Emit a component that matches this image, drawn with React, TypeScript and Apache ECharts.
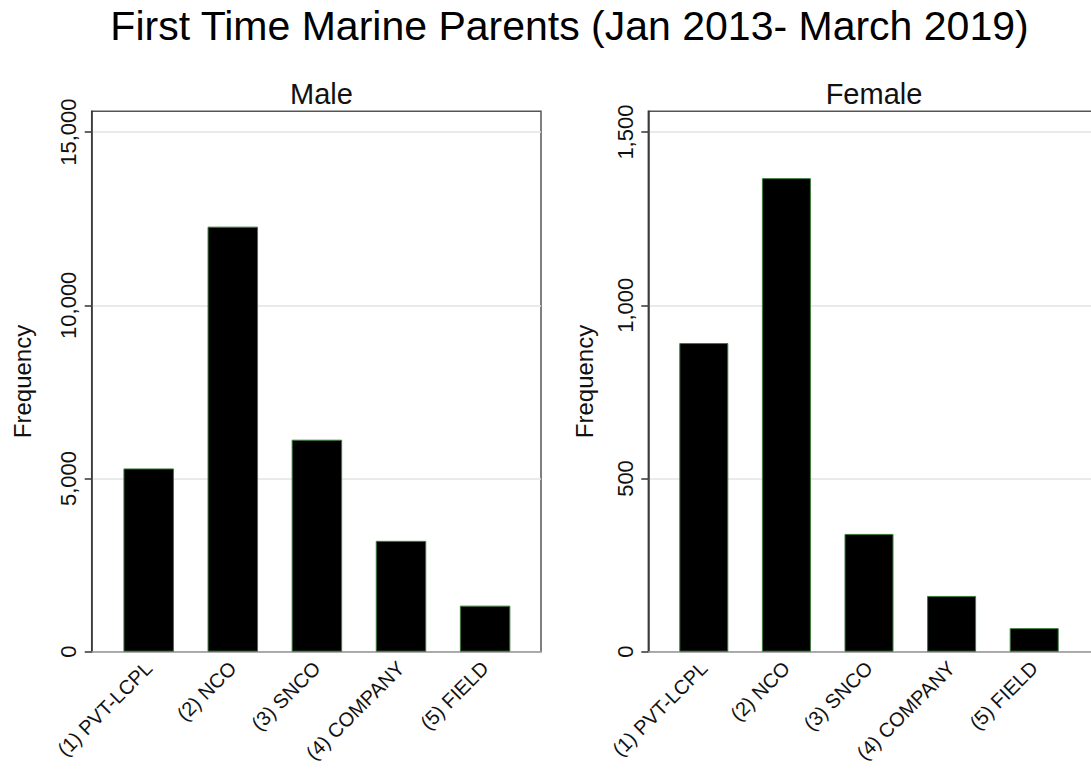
import React, { useEffect, useRef } from "react";
import * as echarts from "echarts";

const categories = ["(1) PVT-LCPL", "(2) NCO", "(3) SNCO", "(4) COMPANY", "(5) FIELD"];
const maleValues = [5290, 12270, 6120, 3200, 1330];
const femaleValues = [891, 1367, 340, 161, 68];
const maleTicks = [0, 5000, 10000, 15000];
const femaleTicks = [0, 500, 1000, 1500];
const maleMax = 15600;
const femaleMax = 1560;
const mainTitle = "First Time Marine Parents (Jan 2013- March 2019)";
const panelTitles = ["Male", "Female"];
const yName = "Frequency";

const FONT = "'Liberation Sans', Arial, sans-serif";
const fmt = (v: number) => Number(v).toLocaleString("en-US");

export default function App() {
  const ref = useRef<HTMLDivElement>(null);
  useEffect(() => {
    if (!ref.current) return;
    const chart = echarts.init(ref.current, null, { renderer: "svg" });
    const top = 111.3;
    const height = 540.4;
    const frameY = (ticks: number[], max: number, nameGap: number) => ({
      type: "value",
      min: 0,
      max,
      axisLine: { show: true, lineStyle: { color: "#333", width: 1.5 } },
      axisTick: { show: true, customValues: ticks, length: 7, inside: false, lineStyle: { color: "#333", width: 1.5 } },
      axisLabel: {
        customValues: ticks,
        rotate: 90,
        margin: 12,
        fontSize: 22,
        fontFamily: FONT,
        color: "#111",
        formatter: (v: number) => (ticks.indexOf(v) >= 0 ? fmt(v) : ""),
      },
      splitLine: { show: true, lineStyle: { color: "#e3e3e3", width: 1.5 } },
      name: yName,
      nameLocation: "middle",
      nameGap,
      nameTextStyle: { fontSize: 24, fontFamily: FONT, color: "#111" },
    });
    const frameX = (gridIndex: number) => ({
      gridIndex,
      type: "value",
      min: 0,
      max: 1,
      axisLine: { show: true, lineStyle: { color: "#a0a0a0", width: 1.5 } },
      axisTick: { show: false },
      axisLabel: { show: false },
      splitLine: { show: false },
    });
    const catX = (gridIndex: number) => ({
      gridIndex,
      type: "category",
      data: categories,
      axisLine: { show: false },
      axisTick: { show: false },
      axisLabel: { rotate: 45, margin: 13, interval: 0, fontSize: 20, fontFamily: FONT, color: "#111" },
    });
    const hiddenY = (gridIndex: number, max: number) => ({
      gridIndex,
      type: "value",
      min: 0,
      max,
      show: false,
      splitLine: { show: false },
    });
    const frameGrid = (left: number, width: number) => ({
      left,
      top,
      width,
      height,
      show: true,
      borderColor: "#555",
      borderWidth: 1.5,
      backgroundColor: "transparent",
      containLabel: false,
      outerBoundsMode: "none",
    });
    const barGrid = (left: number, width: number) => ({
      left,
      top,
      width,
      height,
      containLabel: false,
      outerBoundsMode: "none",
    });
    const barStyle = { color: "#000", borderColor: "#3c7a3c", borderWidth: 1 };
    chart.setOption({
      animation: false,
      backgroundColor: "#fff",
      textStyle: { fontFamily: FONT },
      title: [
        { text: mainTitle, left: 564.5, top: 0, textAlign: "center", textStyle: { fontSize: 41, fontWeight: "normal", fontFamily: FONT, color: "#000" } },
        { text: panelTitles[0], left: 316.4, top: 74, textAlign: "center", textStyle: { fontSize: 29, fontWeight: "normal", fontFamily: FONT, color: "#111" } },
        { text: panelTitles[1], left: 869, top: 74, textAlign: "center", textStyle: { fontSize: 29, fontWeight: "normal", fontFamily: FONT, color: "#111" } },
      ],
      grid: [
        frameGrid(91.7, 449.3),
        barGrid(106.65, 420.5),
        frameGrid(648.3, 445),
        barGrid(662.5, 413),
      ],
      xAxis: [frameX(0), catX(1), frameX(2), catX(3)],
      yAxis: [
        { gridIndex: 0, ...frameY(maleTicks, maleMax, 57) },
        hiddenY(1, maleMax),
        { gridIndex: 2, ...frameY(femaleTicks, femaleMax, 52) },
        hiddenY(3, femaleMax),
      ],
      series: [
        { type: "bar", xAxisIndex: 1, yAxisIndex: 1, data: maleValues, barWidth: 50.5, itemStyle: barStyle },
        { type: "bar", xAxisIndex: 3, yAxisIndex: 3, data: femaleValues, barWidth: 49, itemStyle: barStyle },
      ],
    });
    return () => chart.dispose();
  }, []);
  return (
    <div
      ref={ref}
      style={{ position: "fixed", left: 0, top: 0, width: 1091, height: 771, background: "#fff" }}
    />
  );
}
